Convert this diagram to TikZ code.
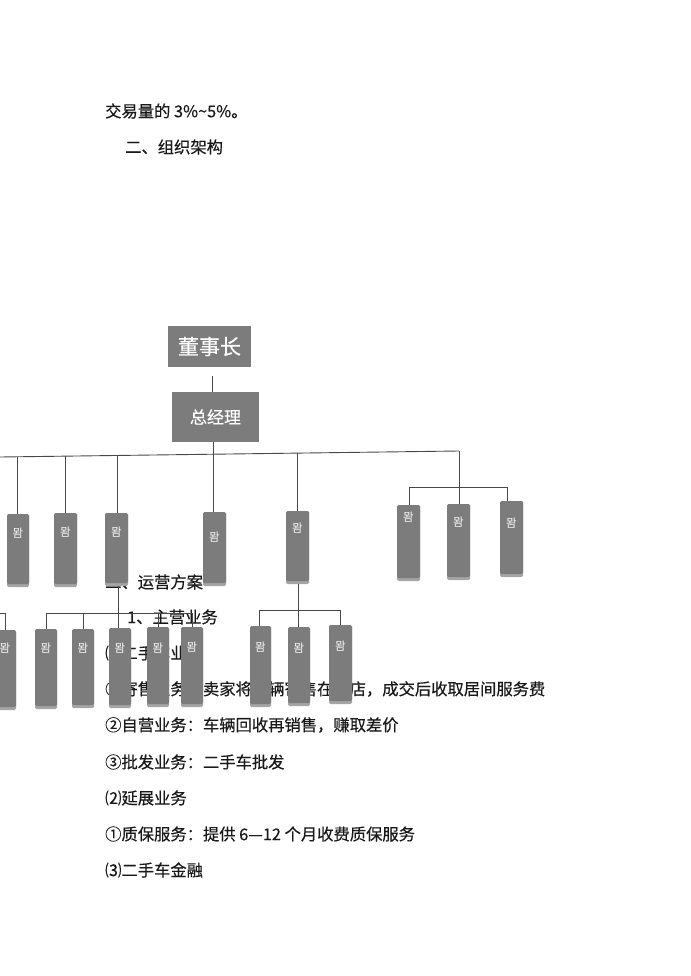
\documentclass[tikz,border=0pt]{standalone}
\usepackage{fontspec}
\newfontfamily\zhfont[FakeBold=0.4]{Noto Sans CJK SC}
\newfontfamily\krfont{Noto Sans CJK KR}
\definecolor{boxgray}{RGB}{124,124,124}
\definecolor{shadegray}{RGB}{165,165,165}
\definecolor{linegray}{RGB}{72,72,72}
\definecolor{bodyblack}{RGB}{25,25,25}
\newcommand\mkdept[6]{%
  \fill[shadegray, rounded corners=1.5pt] (#2,#4) rectangle (#3,#5);
  \node[deptbox, minimum width={#3-#2}, minimum height={#5-#4-3}, anchor=north west] (#1) at (#2,#4) {};
  \node[depttext] (#1t) at ({(#2+#3)/2},#6) {뫔};
}
\begin{document}
\begin{tikzpicture}[x=1pt,y=-1pt,
  body/.style={anchor=west, inner sep=0pt, font=\zhfont\fontsize{16.3}{16.3}\selectfont, text=bodyblack},
  deptbox/.style={rectangle, fill=boxgray, rounded corners=1.5pt, inner sep=0pt, outer sep=0pt},
  depttext/.style={inner sep=0pt, text=white!92!gray, font=\krfont\fontsize{11.5}{11.5}\selectfont},
  topbox/.style={rectangle, fill=boxgray, inner sep=0pt, outer sep=0pt, text=white},
  conn/.style={draw=linegray, line width=0.9pt}
]
\fill[white] (0,0) rectangle (690,976);
\useasboundingbox (0,0) rectangle (690,976);

% body text
\node[body] (t1) at (105,111) {交易量的 3\%\textasciitilde 5\%。};
\node[body] (t2) at (125,147) {二、组织架构};
\node[body] (t3) at (105,582) {二、运营方案};
\node[body] (t4) at (127,617) {1、主营业务};
\node[body] (t5) at (105,653) {⑴二手车业务};
\node[body] (t6) at (105,689) {①寄售业务：卖家将车辆寄售在本店，成交后收取居间服务费};
\node[body] (t7) at (105,725) {②自营业务：车辆回收再销售，赚取差价};
\node[body] (t8) at (105,762) {③批发业务：二手车批发};
\node[body] (t9) at (105,798) {⑵延展业务};
\node[body] (t10) at (105,834) {①质保服务：提供 6—12 个月收费质保服务};
\node[body] (t11) at (105,870) {⑶二手车金融};

% top boxes
\node[topbox, minimum width=83, minimum height=41, font=\zhfont\fontsize{21}{21}\selectfont] (dsz) at (209.5,346.5) {董事长};
\node[topbox, minimum width=87, minimum height=50, font=\zhfont\fontsize{17}{17}\selectfont] (zjl) at (215.5,417) {总经理};

% bus coordinates
\coordinate (c0) at (212,376);
\coordinate (busL) at (0,457);
\coordinate (j1) at (17,456.8);
\coordinate (j2) at (65,456.2);
\coordinate (j3) at (117,455.5);
\coordinate (jz) at (213,454.2);
\coordinate (j5) at (297,453.1);
\coordinate (busR) at (459,451);
\coordinate (r2a) at (409,487);
\coordinate (r2b) at (459,487);
\coordinate (r2c) at (507,487);
\coordinate (l2L) at (0,613);
\coordinate (l2a) at (5,613);
\coordinate (l2b) at (46,613);
\coordinate (l2c) at (83,613);
\coordinate (l2d) at (118,613);
\coordinate (l2e) at (158,613);
\coordinate (l2f) at (192,613);
\coordinate (m2a) at (259,610);
\coordinate (m2b) at (298,610);
\coordinate (m2c) at (340,610);

% connectors
\draw[conn] (c0) -- (zjl.north -| c0);
\draw[conn] (zjl.south -| jz) -- (jz);
\draw[conn] (busL) -- (busR);
\draw[conn] (r2a) -- (r2c);
\draw[conn] (l2L) -- (l2a);
\draw[conn] (l2b) -- (l2f);
\draw[conn] (m2a) -- (m2c);

% first row
\mkdept{b1}{7}{29}{514}{587}{533}
\mkdept{b2}{54}{77}{513}{587}{532}
\mkdept{b3}{105}{128}{513}{586}{532}
\mkdept{b4}{203}{226}{512}{586}{537}
\mkdept{b5}{286}{309}{511}{584}{528}
\mkdept{g1}{397}{420}{505}{581}{517}
\mkdept{g2}{447}{470}{504}{580}{522}
\mkdept{g3}{500}{523}{501}{577}{523}

% second row
\mkdept{s0}{-6}{16}{630}{710}{648}
\mkdept{s1}{35}{57}{629}{709}{648}
\mkdept{s2}{72}{94}{629}{708}{648}
\mkdept{s3}{109}{131}{628}{708}{648}
\mkdept{s4}{147}{169}{627}{707}{648}
\mkdept{s5}{181}{203}{627}{707}{647}
\mkdept{m1}{250}{271}{626}{707}{647}
\mkdept{m2}{288}{310}{627}{706}{648}
\mkdept{m3}{329}{352}{625}{704}{646}

% verticals
\draw[conn] (j1) -- (b1.north -| j1);
\draw[conn] (j2) -- (b2.north -| j2);
\draw[conn] (j3) -- (b3.north -| j3);
\draw[conn] (jz) -- (b4.north -| jz);
\draw[conn] (j5) -- (b5.north -| j5);
\draw[conn] (busR) -- (g2.north -| busR);
\draw[conn] (r2a) -- (g1.north -| r2a);
\draw[conn] (r2c) -- (g3.north -| r2c);
\draw[conn] (l2a) -- (s0.north -| l2a);
\draw[conn] (l2b) -- (s1.north -| l2b);
\draw[conn] (l2c) -- (s2.north -| l2c);
\draw[conn] (b3.south -| l2d) ++(0,3) -- (s3.north -| l2d);
\draw[conn] (l2e) -- (s4.north -| l2e);
\draw[conn] (l2f) -- (s5.north -| l2f);
\draw[conn] (b5.south -| m2b) ++(0,3) -- (m2b);
\draw[conn] (m2a) -- (m1.north -| m2a);
\draw[conn] (m2b) -- (m2.north -| m2b);
\draw[conn] (m2c) -- (m3.north -| m2c);
\end{tikzpicture}
\end{document}
